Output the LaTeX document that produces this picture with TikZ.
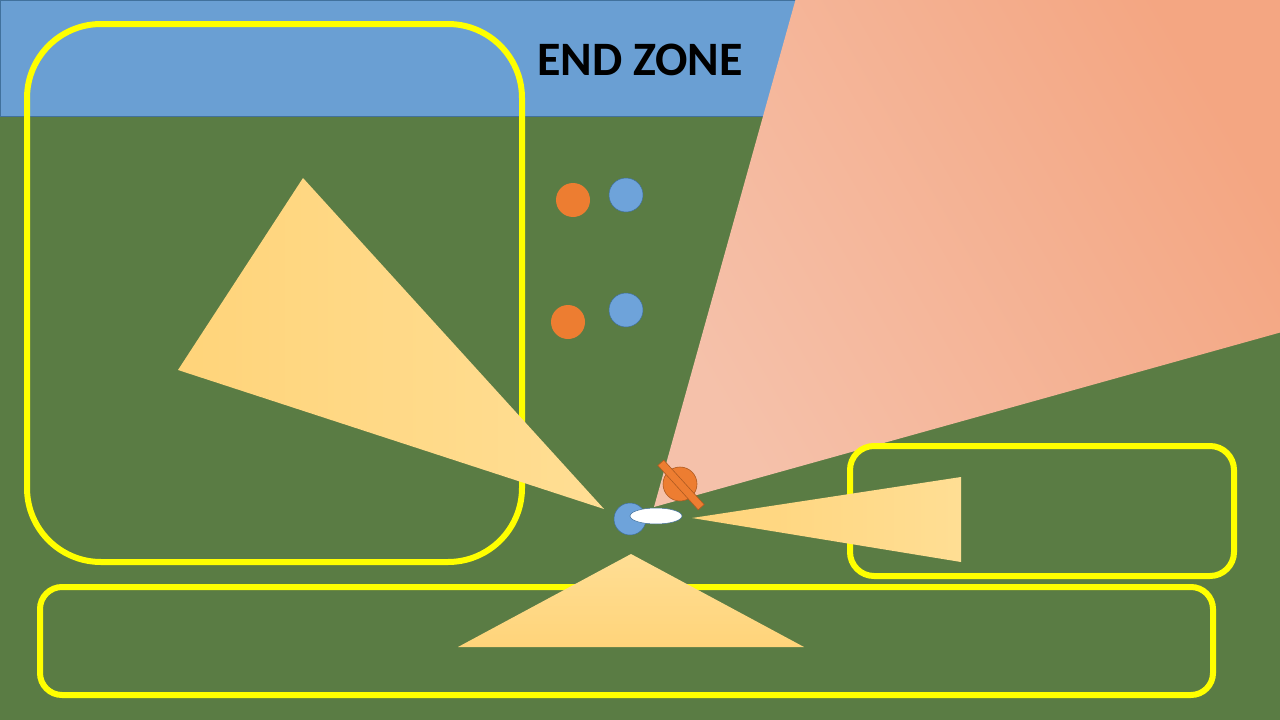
\documentclass[tikz,border=0pt]{standalone}
\usepackage{fontspec}
\newfontfamily\calib{Carlito}
\usetikzlibrary{shapes.geometric}
\definecolor{field}{RGB}{90,124,68}
\definecolor{zoneblue}{RGB}{106,159,211}
\definecolor{dotblue}{RGB}{110,163,218}
\definecolor{bluedark}{RGB}{65,113,156}
\definecolor{dotorange}{RGB}{237,125,49}
\definecolor{orangedark}{RGB}{174,90,33}
\definecolor{pinkA}{RGB}{245,193,170}
\definecolor{pinkB}{RGB}{244,166,130}
\definecolor{goldA}{RGB}{255,212,122}
\definecolor{goldB}{RGB}{255,222,148}
\definecolor{hilite}{RGB}{255,255,0}
\tikzset{
  zonebox/.style={draw=hilite, line width=6pt},
  conefill/.style={left color=goldA, right color=goldB},
  bluedot/.style={circle, fill=dotblue, draw=bluedark, line width=0.5pt, minimum size=34pt, inner sep=0pt},
  orangedot/.style={circle, fill=dotorange, draw=none, minimum size=34pt, inner sep=0pt},
}
\begin{document}
\begin{tikzpicture}[x=1pt,y=-1pt]
\useasboundingbox (0,0) rectangle (1280,720);
% field
\fill[field] (0,0) rectangle (1280,720);
% end zone
\fill[zoneblue, draw=bluedark, line width=1pt] (0.5,0.5) rectangle (1290,116);
% marker coverage
\shade[left color=pinkA, right color=pinkB, shading angle=120] (654,507) -- (796,-2) -- (1282,-2) -- (1282,332) -- cycle;
% zones
\draw[zonebox, rounded corners=74pt] (27,24) rectangle (522,562);
\draw[zonebox, rounded corners=24pt] (850,446) rectangle (1234,576);
\draw[zonebox, rounded corners=22pt] (40,587) rectangle (1213,695);
% throwing cones
\shade[conefill] (303,178) -- (178,370) -- (604,509) -- cycle;
\shade[conefill] (692,518) -- (961,477) -- (961,562) -- cycle;
\shade[top color=goldB, bottom color=goldA] (631,554) -- (458,647) -- (804,647) -- cycle;
% other players
\node[orangedot] (o1) at (573,200) {};
\node[bluedot] (b1) at (626,195) {};
\node[orangedot] (o2) at (568,322) {};
\node[bluedot] (b2) at (626,310) {};
% thrower and marker
\node[bluedot, minimum size=32pt] (thrower) at (630,519) {};
\node[ellipse, fill=white, draw=bluedark, line width=0.5pt, minimum width=52pt, minimum height=16pt, inner sep=0pt] (disc) at (656,516) {};
\node[circle, fill=dotorange, draw=orangedark, line width=0.6pt, minimum size=34pt, inner sep=0pt] (marker) at (680,484) {};
\node[rectangle, fill=dotorange, draw=orangedark, line width=0.6pt, minimum width=60pt, minimum height=8pt, inner sep=0pt, rotate=-47.7] (arms) at (681,485) {};
% label
\node[font=\calib\bfseries\fontsize{48}{56}\selectfont, text=black, inner sep=0pt] (ez) at (640,60) {END ZONE};
\end{tikzpicture}
\end{document}
